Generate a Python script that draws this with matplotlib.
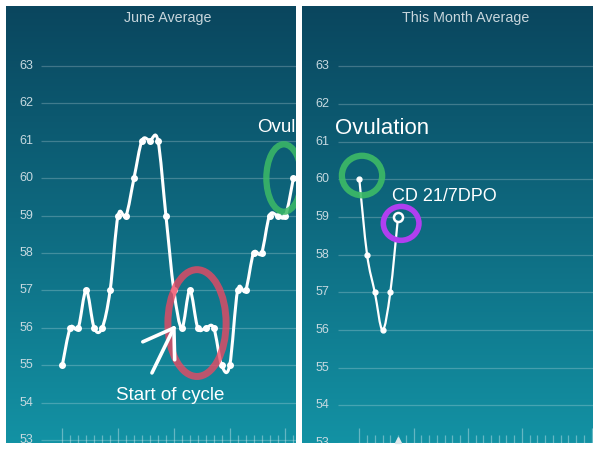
import numpy as np
import matplotlib.pyplot as plt
import matplotlib.transforms as mtransforms
from matplotlib.colors import LinearSegmentedColormap
from matplotlib.path import Path
from matplotlib.patches import PathPatch, Ellipse

plt.rcParams['font.family'] = ['Liberation Sans', 'DejaVu Sans']

# data
june_days = list(range(1, 31))
june_vals = [55, 56, 56, 57, 56, 56, 57, 59, 59, 60, 61, 61, 61, 59, 57,
             56, 57, 56, 56, 56, 55, 55, 57, 57, 58, 58, 59, 59, 59, 60]
month_days = [1, 2, 3, 4, 5, 6]
month_vals = [60, 58, 57, 56, 57, 59]
y_ticks = [53, 54, 55, 56, 57, 58, 59, 60, 61, 62, 63]
june_majors = [1, 8, 15, 22, 29]
month_majors = [1, 8, 15, 22, 31]
titles = ['June Average', 'This Month Average']

bg = LinearSegmentedColormap.from_list('bg', ['#0a465e', '#0e6a80', '#1392a4'])


def smooth_path(x, y):
    # catmull-rom style curve through the points, like the app draws
    pts = np.column_stack([x, y]).astype(float)
    p = np.vstack([pts[0], pts, pts[-1]])
    verts = [pts[0]]
    codes = [Path.MOVETO]
    for i in range(1, len(p) - 2):
        p0, p1, p2, p3 = p[i - 1], p[i], p[i + 1], p[i + 2]
        verts += [p1 + (p2 - p0) / 6, p2 - (p3 - p1) / 6, p2]
        codes += [Path.CURVE4] * 3
    return Path(verts, codes)


def setup_panel(ax, title, xlim, ylim, ndays, majors, grid_start, label_x):
    ax.imshow(np.linspace(0, 1, 256).reshape(-1, 1), cmap=bg, aspect='auto',
              extent=[0, 1, 0, 1], transform=ax.transAxes, zorder=0, origin='upper')
    ty = mtransforms.blended_transform_factory(ax.transAxes, ax.transData)
    tx = mtransforms.blended_transform_factory(ax.transData, ax.transAxes)
    ax.hlines(y_ticks, grid_start, 1, transform=ty, color='white', alpha=0.22, lw=0.9, zorder=1)
    for v in y_ticks:
        ax.text(label_x, v, str(v), transform=ty, ha='center', va='center',
                fontsize=9, color='#c6d9e0', zorder=2, clip_on=True)
    days = list(range(1, ndays + 1))
    minors = [d for d in days if d not in majors]
    ax.vlines(minors, 0, 0.018, transform=tx, color='white', alpha=0.35, lw=0.9, zorder=1)
    ax.vlines(majors, 0, 0.034, transform=tx, color='white', alpha=0.35, lw=0.9, zorder=1)
    ax.text(label_x + 0.49, 0.9725, title, transform=ax.transAxes, ha='center', va='center',
            fontsize=10.3, color='#c8d6dc', zorder=2)
    ax.set_xlim(*xlim)
    ax.set_ylim(*ylim)
    ax.axis('off')


fig = plt.figure(figsize=(6, 4.5), dpi=100)
fig.patch.set_facecolor('white')

ax1 = fig.add_axes([6 / 600, 7 / 450, 290 / 600, 437 / 450])
ax2 = fig.add_axes([302 / 600, 7 / 450, 291 / 600, 437 / 450])

setup_panel(ax1, titles[0], (-6.06, 30.32), (52.93, 64.59), 30, june_majors, 0.12, 0.069)
setup_panel(ax2, titles[1], (-6.40, 31.17), (53.0, 64.6), 31, month_majors, 0.124, 0.071)

# June line
ax1.add_patch(PathPatch(smooth_path(june_days, june_vals), fill=False, ec='white',
                        lw=2.2, zorder=3, capstyle='round', joinstyle='round'))
ax1.plot(june_days, june_vals, 'o', color='white', ms=4, zorder=4)

# this month line
ax2.add_patch(PathPatch(smooth_path(month_days, month_vals), fill=False, ec='white',
                        lw=1.6, zorder=3, capstyle='round', joinstyle='round'))
ax2.plot(month_days[:-1], month_vals[:-1], 'o', color='white', ms=3.5, zorder=4)
ax2.plot(month_days[-1:], month_vals[-1:], 'o', mfc='#0f6e84', mec='white', mew=1.8, ms=6.5, zorder=5)
ax2.plot(month_days[-1:], [53.08], '^', color='#dfe8ec', ms=5, zorder=4, clip_on=False)

# hand-drawn annotations
ax1.text(14.5, 54.21, 'Start of cycle', ha='center', va='center', fontsize=13.5,
         color='white', zorder=6)
for xs, ys in [([12.25, 15.0], [54.8, 56.0]), ([11.1, 15.0], [55.63, 56.0]),
               ([15.0, 15.1], [56.0, 55.15])]:
    ax1.plot(xs, ys, color='white', lw=2.6, solid_capstyle='round', zorder=6)
ax1.add_patch(Ellipse((17.9, 56.13), 7.3, 2.85, fill=False, ec='#ee4862', alpha=0.78,
                      lw=5, zorder=5))
ax1.add_patch(Ellipse((28.8, 60.0), 4.4, 1.8, fill=False, ec='#3dbb66', alpha=0.85,
                      lw=4.5, zorder=5))
ax1.text(25.4, 61.36, 'Ovulation', ha='left', va='center', fontsize=13.5,
         color='white', zorder=6, clip_on=True)

ax2.text(3.93, 61.36, 'Ovulation', ha='center', va='center', fontsize=16,
         color='white', zorder=6)
ax2.add_patch(Ellipse((1.35, 60.1), 5.2, 1.05, fill=False, ec='#3dbb66', alpha=0.9,
                      lw=4.5, zorder=5))
ax2.text(12.0, 59.55, 'CD 21/7DPO', ha='center', va='center', fontsize=13,
         color='white', zorder=6)
ax2.add_patch(Ellipse((6.4, 58.83), 4.6, 0.9, fill=False, ec='#b03ff0',
                      lw=4, zorder=5))

fig.savefig('out.png', dpi=100)
